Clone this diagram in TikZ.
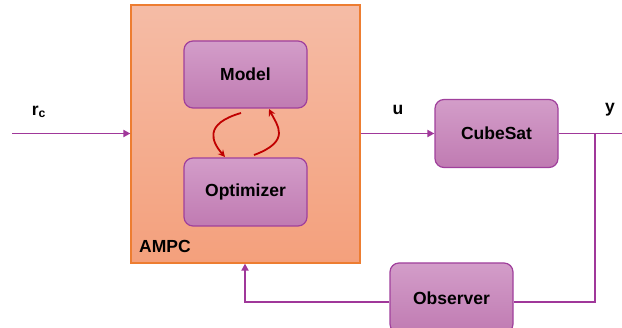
\documentclass[tikz,border=0pt]{standalone}
\usepackage{fontspec}
\setmainfont{Liberation Sans}
\usetikzlibrary{arrows.meta}
\definecolor{ampctop}{HTML}{F5BCA6}
\definecolor{ampcbot}{HTML}{F4A07C}
\definecolor{ampcedge}{HTML}{ED7D31}
\definecolor{boxtop}{HTML}{D39DC9}
\definecolor{boxbot}{HTML}{C07BB2}
\definecolor{boxedge}{HTML}{A0409C}
\definecolor{wire}{HTML}{A0389A}
\definecolor{loopred}{HTML}{C00000}
\tikzset{
  blockbox/.style={draw=boxedge, line width=1.2pt, rounded corners=9pt, top color=boxtop, bottom color=boxbot,
    minimum width=123pt, inner sep=0pt, font=\fontsize{17.5}{20}\selectfont\bfseries},
  ampcbox/.style={draw=ampcedge, line width=1.2pt, top color=ampctop, bottom color=ampcbot,
    minimum width=229pt, minimum height=258pt, inner sep=0pt},
  wirearrow/.style={draw=wire, line width=1.8pt, -{Triangle[width=7pt,length=7pt]}},
  wireline/.style={draw=wire, line width=1.8pt},
  redarrow/.style={draw=loopred, line width=1.8pt, -{Stealth[width=7pt,length=7pt]}},
  lbl/.style={font=\fontsize{17.5}{20}\selectfont\bfseries, inner sep=0pt}
}
\begin{document}
\begin{tikzpicture}[x=1pt,y=-1pt]
\useasboundingbox (0,0) rectangle (622,328);
\clip (0,0) rectangle (622,328);
\node[ampcbox] (ampc) at (245.5,134) {};
\node[lbl, anchor=west] (ampclbl) at (139,246) {AMPC};
\node[blockbox, minimum height=67pt] (model) at (245.5,74.5) {Model};
\node[blockbox, minimum height=68pt] (opt) at (245.5,192) {Optimizer};
\node[blockbox, minimum height=68pt] (cube) at (496.5,133.5) {CubeSat};
\node[blockbox, minimum height=70pt] (obs) at (451.5,298) {Observer};
% labels
\node[lbl] (rclbl) at (39,112) {r\textsubscript{c}};
\node[lbl] (ulbl) at (398,110) {u};
\node[lbl] (ylbl) at (610,110) {y};
% wires
\coordinate (rc) at (12,133.5);
\coordinate (yend) at (622,133.5);
\coordinate (tap) at (595,133.5);
\coordinate (tapdown) at (595,302);
\coordinate (fb) at (245,302);
\draw[wirearrow] (rc) -- (rc -| ampc.west);
\draw[wirearrow] (ampc.east |- cube.west) -- (cube.west);
\draw[wireline] (cube.east) -- (yend);
\draw[wireline] (tap) -- (tapdown) -- (tapdown -| obs.east);
\draw[wirearrow] (fb -| obs.west) -- (fb) -- (fb |- ampc.south);
% inner loop
\draw[redarrow] (241,113) .. controls (203,124) and (212,142) .. (225,157);
\draw[redarrow] (254,155) .. controls (292,141) and (277,125) .. (269,109);
\end{tikzpicture}
\end{document}
